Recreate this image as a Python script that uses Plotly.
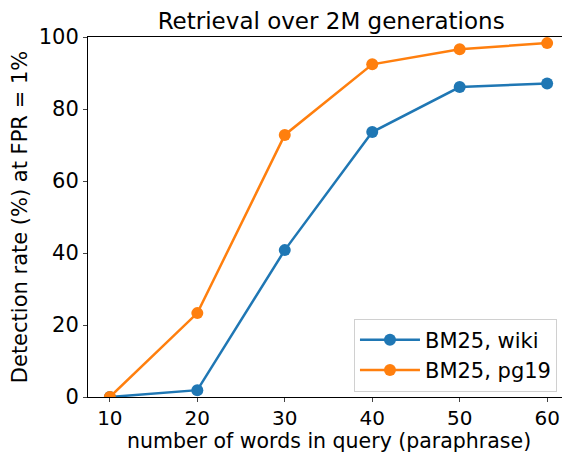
import plotly.graph_objects as go

query_words = [10, 20, 30, 40, 50, 60]
wiki_rate = [0.0, 1.9, 40.8, 73.6, 86.1, 87.1]
pg19_rate = [0.0, 23.3, 72.8, 92.4, 96.6, 98.3]
series_names = ["BM25, wiki", "BM25, pg19"]
x_ticks = [10, 20, 30, 40, 50, 60]
y_ticks = [0, 20, 40, 60, 80, 100]

FONT = "DejaVu Sans"
fig = go.Figure()
fig.add_trace(go.Scatter(x=query_words, y=wiki_rate, mode="lines+markers", name=series_names[0],
                         line=dict(color="#1f77b4", width=2.5), marker=dict(size=12, color="#1f77b4")))
fig.add_trace(go.Scatter(x=query_words, y=pg19_rate, mode="lines+markers", name=series_names[1],
                         line=dict(color="#ff7f0e", width=2.5), marker=dict(size=12, color="#ff7f0e")))

# page body has an 8px default margin; figure is sized to compensate
fig.update_layout(
    width=562, height=446,
    margin=dict(l=80, r=1, t=29, b=57),
    plot_bgcolor="white", paper_bgcolor="white",
    font=dict(family=FONT, size=21, color="black"),
    title=dict(text="Retrieval over 2M generations", x=0.575, xanchor="center", y=0.972, yanchor="middle",
               font=dict(size=23, family=FONT, color="black")),
    showlegend=True,
    legend=dict(x=0.975, xanchor="right", y=0.015, yanchor="bottom",
                bgcolor="white", bordercolor="#d0d0d0", borderwidth=1,
                font=dict(size=21, family=FONT), itemwidth=60),
    xaxis=dict(range=[7.5, 62.5], tickvals=x_ticks, ticks="outside", ticklen=4, tickwidth=1,
               tickfont=dict(size=20), ticklabelstandoff=-1,
               showline=True, linecolor="black", linewidth=1, mirror=True, showgrid=False, zeroline=False,
               automargin=False),
    yaxis=dict(range=[0, 100], tickvals=y_ticks, ticks="outside", ticklen=4, tickwidth=1,
               showline=True, linecolor="black", linewidth=1, mirror=True, showgrid=False, zeroline=False,
               automargin=False,
               title=dict(text="Detection rate (%) at FPR = 1%", font=dict(size=21), standoff=6)),
)
fig.add_annotation(text="number of words in query (paraphrase)", xref="paper", yref="paper",
                   x=0.5, xanchor="center", y=-58 / 360, yanchor="bottom", showarrow=False,
                   font=dict(size=20.5, family=FONT, color="black"))
fig.write_html("out.html")
